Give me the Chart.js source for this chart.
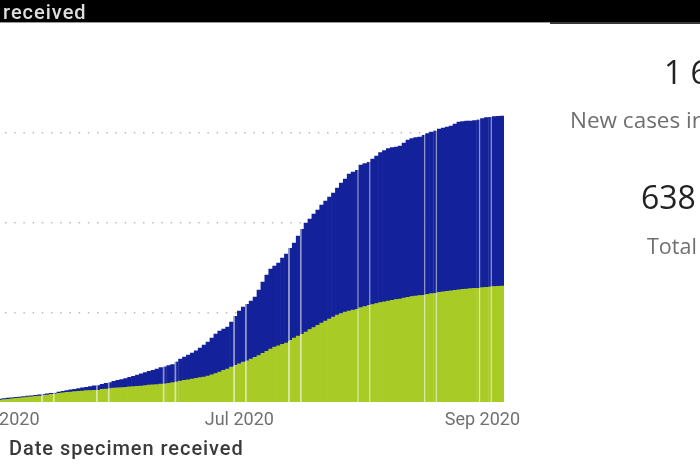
<!DOCTYPE html>
<html><head><meta charset="utf-8">
<script src="https://cdn.jsdelivr.net/npm/chart.js@4"></script>
<style>
html,body{margin:0;padding:0;width:700px;height:467px;overflow:hidden;background:#fff}
#chart{position:absolute;left:-41px;top:0;filter:blur(.5px)}
.t{position:absolute;white-space:nowrap;line-height:1;filter:blur(.4px)}
#bar{position:absolute;left:0;top:0;width:700px;height:22px;background:#000;border-bottom:1px solid #9a9a9a}
#bar2{position:absolute;left:550px;top:22px;width:150px;height:2px;background:#3a3a3a}
</style></head><body>
<canvas id="chart" width="741" height="467"></canvas>
<div id="bar"></div><div id="bar2"></div>
<div class="t" style="left:3px;top:0px;font:500 20px Roboto,sans-serif;letter-spacing:1px;color:#dedede">received</div>
<div class="t" style="left:9px;top:436px;font:500 20px Roboto,sans-serif;letter-spacing:.95px;color:#3a3a3a">Date specimen received</div>
<div class="t" style="left:664px;top:50px;font:32px 'Open Sans',sans-serif;color:#222">1 6</div>
<div class="t" style="left:570px;top:104px;font:22.5px 'Open Sans',sans-serif;color:#6f6f6f">New cases in</div>
<div class="t" style="left:641px;top:175px;font:32px 'Open Sans',sans-serif;color:#222">638</div>
<div class="t" style="left:647px;top:231px;font:21.5px 'Open Sans',sans-serif;color:#6f6f6f">Total</div>
<script>
// Cumulative cases, thousands, one per day from 21 Apr to 6 Sep 2020
const totalCases = [
2.2,2.5,2.9,3.2,3.6,4.0,4.5,4.9,5.4,6.0,
6.7,7.6,8.5,9.4,10.3,11.2,12.0,13.2,14.0,14.9,16.1,17.2,18.5,19.6,20.7,22.3,23.9,25.4,27.0,28.5,30.1,31.4,33.0,34.6,35.9,37.5,39.5,41.9,44.2,46.2,48.2,
50.2,52.4,55.1,57.5,60.2,62.9,65.6,68.2,70.9,73.6,76.7,79.4,81.0,83.6,90.3,95.9,100.3,104.8,109.3,114.4,120.4,127.0,133.8,142.7,151.6,158.3,162.8,167.3,178.4,191.8,
202.9,211.9,218.5,225.2,234.2,249.8,267.6,283.2,296.6,303.3,310.0,321.1,330.0,343.4,354.6,370.2,385.8,399.2,408.1,419.2,428.2,439.3,448.2,457.2,466.1,477.2,488.4,497.3,508.4,512.9,517.4,
528.5,531.9,535.2,541.9,548.6,556.4,560.8,565.3,567.5,568.7,570.9,577.6,584.3,587.6,589.8,591.0,595.4,598.8,602.1,605.4,608.8,611.0,613.3,615.5,619.9,624.4,625.5,626.6,626.6,627.7,630.0,
632.2,634.4,635.6,636.7,637.3,637.8];
const greenCases = [
1.3,1.6,1.8,2.0,2.2,2.5,2.9,3.3,3.8,4.2,
4.5,5.4,6.2,7.1,8.0,8.9,9.8,10.7,11.6,12.5,13.4,14.7,15.6,16.9,18.3,19.4,20.3,21.4,22.3,23.2,23.9,24.5,25.2,25.6,26.3,27.0,28.1,29.0,29.9,30.8,31.4,
32.1,33.0,33.7,34.3,35.2,35.7,36.6,37.5,38.1,38.8,39.7,40.6,41.5,43.3,45.0,46.8,48.2,49.7,51.3,52.6,54.2,55.8,58.0,60.7,63.6,66.9,70.5,73.6,78.0,82.1,
85.4,88.8,92.1,95.9,99.9,103.7,108.4,113.3,118.2,122.7,125.5,128.9,131.6,137.1,142.7,147.2,151.6,156.1,161.7,166.1,171.0,176.2,180.6,185.1,189.6,194.0,197.4,200.7,202.9,205.2,207.4,
210.7,213.0,215.2,217.4,219.7,221.9,223.4,225.2,226.8,228.6,229.7,231.9,233.7,235.3,236.4,237.5,238.6,240.4,241.7,243.1,244.6,245.7,247.1,248.0,249.1,250.2,251.1,252.0,252.9,253.6,254.2,
255.1,256.0,256.9,257.6,258.2,258.7];
const monthNames = ['Apr','May','Jun','Jul','Aug','Sep'];
const monthDays = [[21,30],[1,31],[1,30],[1,31],[1,31],[1,6]];
const tickMonths = ['May','Jul','Sep'];
const yTicks = [200,400,600];
const seamsLeft = ['May 12','May 15','May 26','May 29','Jun 12','Jun 15','Jun 30','Jul 3','Jul 14','Jul 17'];
const seamsRight = ['Jul 31','Aug 3','Aug 17','Aug 20','Aug 31','Sep 3'];

const dates = [];
monthNames.forEach((m,i)=>{for(let d=monthDays[i][0];d<=monthDays[i][1];d++)dates.push(m+' '+d);});
const otherCases = totalCases.map((v,i)=>+(v-greenCases[i]).toFixed(1));

const edge = ctx => {
  const l = dates[ctx.dataIndex];
  return {left: seamsLeft.includes(l)?1.9:0, right: seamsRight.includes(l)?1.9:0, top:0, bottom:0};
};
new Chart(document.getElementById('chart'),{
  type:'bar',
  data:{labels:dates,datasets:[
    {label:'Green',data:greenCases,backgroundColor:'#a9cb25',borderColor:'#dbe8a8',borderWidth:edge,borderSkipped:false,barPercentage:1,categoryPercentage:1},
    {label:'Blue',data:otherCases,backgroundColor:'#13219a',borderColor:'#9095c8',borderWidth:edge,borderSkipped:false,barPercentage:1,categoryPercentage:1}
  ]},
  options:{
    responsive:false,animation:false,devicePixelRatio:1,
    layout:{padding:{top:88.2,right:196,left:0,bottom:0}},
    plugins:{legend:{display:false},tooltip:{enabled:false},title:{display:false}},
    scales:{
      x:{stacked:true,offset:true,grid:{display:false,drawTicks:false,tickLength:0},border:{display:false},
         afterFit:s=>{s.height=65;s.paddingLeft=0;s.paddingRight=0;},
         ticks:{autoSkip:false,maxRotation:0,minRotation:0,padding:8,color:'#707070',font:{family:'Roboto',size:18},
           callback(v){const l=this.getLabelForValue(v);const p=l.split(' ');return (p[1]==='1'&&tickMonths.includes(p[0]))?p[0]+' 2020':null;}}},
      y:{stacked:true,min:0,max:700,
         afterBuildTicks:a=>{a.ticks=yTicks.map(value=>({value}));},
         afterFit:s=>{s.width=0;},
         grid:{color:'#bcbcbc',lineWidth:1.5,drawTicks:false,tickLength:0},
         border:{display:false,dash:[1.5,7.7]},
         ticks:{display:false}}
    }
  }
});
</script></body></html>
